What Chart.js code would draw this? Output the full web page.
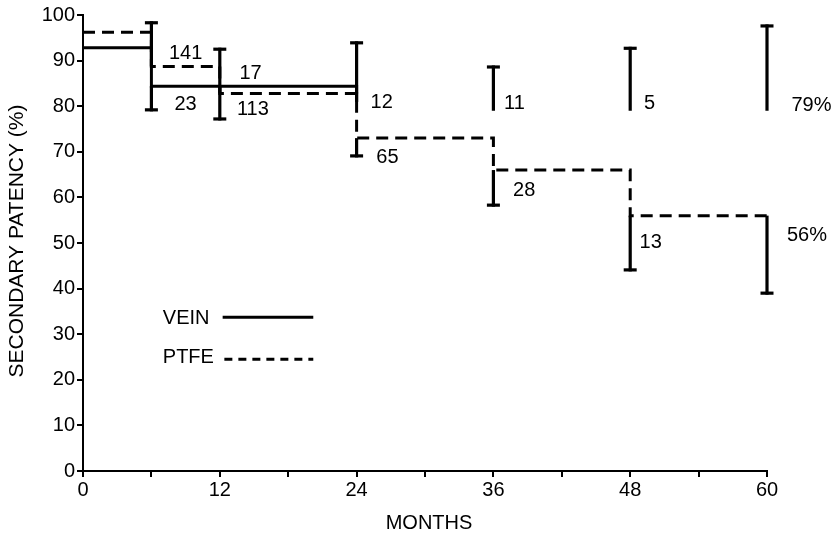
<!DOCTYPE html>
<html>
<head>
<meta charset="utf-8">
<script src="https://cdn.jsdelivr.net/npm/chart.js@4/dist/chart.umd.min.js"></script>
<style>
  html, body { margin: 0; padding: 0; background: #fff; }
  #wrap { width: 835px; height: 536px; }
</style>
</head>
<body>
<div id="wrap"><canvas id="chart" width="835" height="536"></canvas></div>
<script>
// Secondary patency by graft type, life-table steps (months -> % patent)
const months = [0, 6, 12, 24, 36, 48, 60];
const veinPatency = [92.8, 84.4, 84.4, 81, 79, 79, 79];
const ptfePatency = [96.2, 88.7, 82.8, 73, 66, 56, 56];

// Confidence limits at each interval boundary
const ciMonths = [6, 12, 24, 36, 48, 60];
const veinUpperCI = [null, null, 93.9, 88.6, 92.7, 97.6];
const veinLowerCI = [79.2, 77.2, null, null, null, null];
const ptfeUpperCI = [98.3, 92.5, null, null, null, null];
const ptfeLowerCI = [null, null, 69.1, 58.3, 44.1, 39.0];

// Grafts at risk
const riskMonths = [6, 12, 24, 36, 48];
const veinAtRisk = [23, 17, 12, 11, 5];
const ptfeAtRisk = [141, 113, 65, 28, 13];

// Axis ticks
const xLabelled = [0, 12, 24, 36, 48, 60];
const veinCurveEnd = 24;

const FONT = '"Liberation Sans", Arial, Helvetica, sans-serif';

// where the counts sit (month, %) beside each bar
const veinRiskSpots = [[9.0, 80.3], [14.7, 87.1], [26.2, 80.8], [37.85, 80.6], [49.7, 80.6]];
const ptfeRiskSpots = [[9.0, 91.6], [14.9, 79.3], [26.7, 68.8], [38.7, 61.5], [49.8, 50.1]];

const veinCurve = months
  .map((m, i) => ({ x: m, y: veinPatency[i] }))
  .filter(p => p.x <= veinCurveEnd);
const ptfeCurve = months.map((m, i) => ({ x: m, y: ptfePatency[i] }));

const annotate = {
  id: 'annotate',
  afterDatasetsDraw(chart) {
    const { ctx, chartArea, scales: { x, y } } = chart;
    ctx.save();
    ctx.strokeStyle = '#000';
    ctx.fillStyle = '#000';
    ctx.lineWidth = 3.2;
    ctx.lineCap = 'butt';

    const CAP = 6.5;
    const bar = (m, from, to) => {
      const px = x.getPixelForValue(m);
      const p1 = y.getPixelForValue(from);
      const p2 = y.getPixelForValue(to);
      const ext = p2 < p1 ? -1.5 : 1.5;
      ctx.beginPath();
      ctx.moveTo(px, p1);
      ctx.lineTo(px, p2 + ext);
      ctx.stroke();
      ctx.beginPath();
      ctx.moveTo(px - CAP, p2);
      ctx.lineTo(px + CAP, p2);
      ctx.stroke();
    };

    ciMonths.forEach((m, i) => {
      const k = months.indexOf(m);
      if (veinUpperCI[i] != null) bar(m, veinPatency[k], veinUpperCI[i]);
      if (veinLowerCI[i] != null) bar(m, veinPatency[k], veinLowerCI[i]);
      if (ptfeUpperCI[i] != null) bar(m, ptfePatency[k], ptfeUpperCI[i]);
      if (ptfeLowerCI[i] != null) bar(m, ptfePatency[k], ptfeLowerCI[i]);
    });

    // numbers at risk
    ctx.font = '20px ' + FONT;
    ctx.textAlign = 'center';
    ctx.textBaseline = 'middle';
    riskMonths.forEach((m, i) => {
      ctx.fillText(String(veinAtRisk[i]), x.getPixelForValue(veinRiskSpots[i][0]), y.getPixelForValue(veinRiskSpots[i][1]));
      ctx.fillText(String(ptfeAtRisk[i]), x.getPixelForValue(ptfeRiskSpots[i][0]), y.getPixelForValue(ptfeRiskSpots[i][1]));
    });

    // five-year patency
    const last = months.length - 1;
    ctx.fillText(veinPatency[last] + '%', x.getPixelForValue(63.9), y.getPixelForValue(80.2));
    ctx.fillText(ptfePatency[last] + '%', x.getPixelForValue(63.5), y.getPixelForValue(51.6));

    // key
    ctx.textAlign = 'left';
    ctx.fillText('VEIN', x.getPixelForValue(7), y.getPixelForValue(33.5));
    ctx.fillText('PTFE', x.getPixelForValue(7), y.getPixelForValue(24.9));
    ctx.lineWidth = 3;
    ctx.beginPath();
    ctx.moveTo(x.getPixelForValue(12.25), y.getPixelForValue(33.7));
    ctx.lineTo(x.getPixelForValue(20.2), y.getPixelForValue(33.7));
    ctx.stroke();
    ctx.setLineDash([8, 6]);
    ctx.beginPath();
    ctx.moveTo(x.getPixelForValue(12.4), y.getPixelForValue(24.5));
    ctx.lineTo(x.getPixelForValue(20.2), y.getPixelForValue(24.5));
    ctx.stroke();
    ctx.setLineDash([]);

    // axis titles
    ctx.textAlign = 'center';
    ctx.fillText('MONTHS', (chartArea.left + chartArea.right) / 2 + 4, chartArea.bottom + 52);
    ctx.font = '21px ' + FONT;
    ctx.translate(chartArea.left - 66, (chartArea.top + chartArea.bottom) / 2 - 2);
    ctx.rotate(-Math.PI / 2);
    ctx.fillText('SECONDARY PATENCY (%)', 0, 0);
    ctx.restore();
  }
};

new Chart(document.getElementById('chart'), {
  type: 'line',
  data: {
    datasets: [
      {
        label: 'VEIN',
        data: veinCurve,
        stepped: 'before',
        borderColor: '#000',
        borderWidth: 3,
        pointRadius: 0,
        fill: false,
        clip: false
      },
      {
        label: 'PTFE',
        data: ptfeCurve,
        stepped: 'before',
        borderColor: '#000',
        borderWidth: 3,
        borderDash: [12, 7],
        pointRadius: 0,
        fill: false,
        clip: false
      }
    ]
  },
  options: {
    responsive: false,
    animation: false,
    layout: { padding: { left: 0, right: 68, top: 15, bottom: 0 } },
    plugins: { legend: { display: false }, tooltip: { enabled: false } },
    scales: {
      x: {
        type: 'linear',
        min: 0,
        max: 60,
        afterFit(scale) { scale.height = 65; },
        border: { display: true, color: '#000', width: 2 },
        grid: { drawOnChartArea: false, drawTicks: true, tickLength: 6, color: '#000', lineWidth: 2 },
        ticks: {
          stepSize: 6,
          autoSkip: false,
          maxRotation: 0,
          padding: 1,
          color: '#000',
          font: { family: FONT, size: 20 },
          callback: v => (xLabelled.includes(v) ? String(v) : '')
        }
      },
      y: {
        min: 0,
        max: 100,
        afterFit(scale) { scale.width = 83; },
        border: { display: true, color: '#000', width: 2 },
        grid: { drawOnChartArea: false, drawTicks: true, tickLength: 6, color: '#000', lineWidth: 2 },
        ticks: {
          stepSize: 10,
          padding: 2,
          color: '#000',
          font: { family: FONT, size: 20 }
        }
      }
    }
  },
  plugins: [annotate]
});
</script>
</body>
</html>
